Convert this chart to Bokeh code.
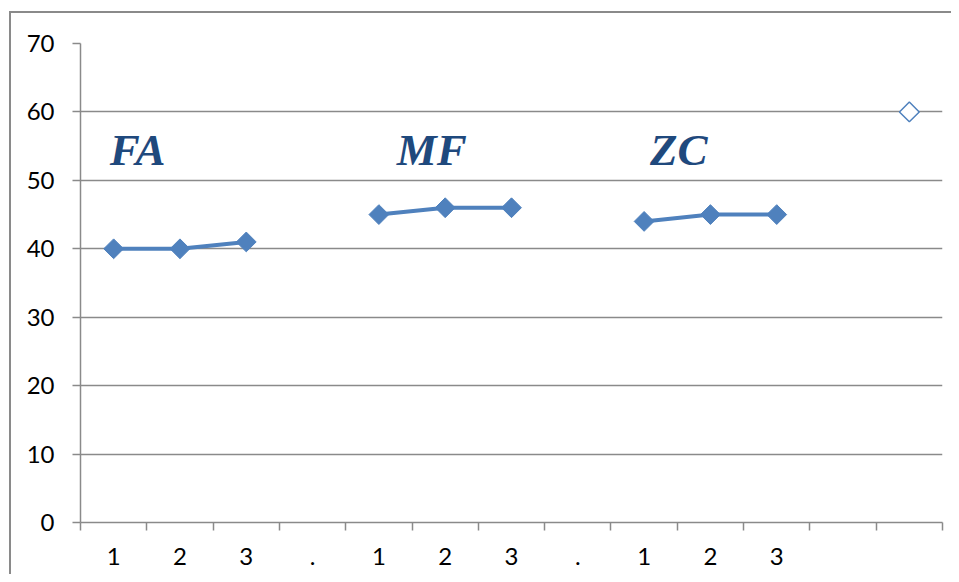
from bokeh.plotting import figure
from bokeh.models import Range1d, FixedTicker, Label
from bokeh.embed import file_html
from bokeh.resources import INLINE
import math

# ---- data ----
categories = ["1", "2", "3", ".", "1", "2", "3", ".", "1", "2", "3", "", ""]
series_main = [40, 40, 41, None, 45, 46, 46, None, 44, 45, 45, None, None]
series_extra = [None] * 12 + [60]
group_names = ["FA", "MF", "ZC"]
y_ticks = [0, 10, 20, 30, 40, 50, 60, 70]

# layout constants for the group labels (data coordinates)
group_label_x = [0.44, 4.77, 8.59]
group_label_y = 54.5

n = len(categories)
xs = [i + 0.5 for i in range(n)]
ys_main = [float("nan") if v is None else v for v in series_main]
ys_extra = [float("nan") if v is None else v for v in series_extra]

GRAY = "#8a8a8a"
BLUE = "#4f81bd"

p = figure(
    frame_width=862, frame_height=479,
    min_border_left=69, min_border_right=9, min_border_top=30, min_border_bottom=52,
    x_range=Range1d(0, n), y_range=Range1d(0, 70),
    output_backend="svg", toolbar_location=None,
)
p.styles = {"border-left": f"2px solid {GRAY}", "border-top": f"2px solid {GRAY}",
            "margin-left": "9px", "margin-top": "11px"}
p.outline_line_color = None
p.background_fill_color = "white"

# grid
p.xgrid.visible = False
p.ygrid.ticker = FixedTicker(ticks=y_ticks)
p.ygrid.grid_line_color = GRAY
p.ygrid.grid_line_width = 1.5

# y axis
p.yaxis.ticker = FixedTicker(ticks=y_ticks, minor_ticks=[])
p.yaxis.axis_line_color = GRAY
p.yaxis.axis_line_width = 1.5
p.yaxis.major_tick_line_color = GRAY
p.yaxis.major_tick_line_width = 1.5
p.yaxis.major_tick_out = 8
p.yaxis.major_tick_in = 0
p.yaxis.minor_tick_line_color = None
p.yaxis.major_label_text_font = "Lato"
p.yaxis.major_label_text_font_size = "24px"
p.yaxis.major_label_text_color = "black"
p.yaxis.major_label_standoff = 18

# x axis
p.xaxis.ticker = FixedTicker(ticks=xs, minor_ticks=list(range(n + 1)))
p.xaxis.major_label_overrides = {x: c for x, c in zip(xs, categories)}
p.xaxis.axis_line_color = GRAY
p.xaxis.axis_line_width = 1.5
p.xaxis.major_tick_line_color = None
p.xaxis.minor_tick_line_color = GRAY
p.xaxis.minor_tick_line_width = 1.5
p.xaxis.minor_tick_out = 8
p.xaxis.minor_tick_in = 0
p.xaxis.major_label_text_font = "Lato"
p.xaxis.major_label_text_font_size = "24px"
p.xaxis.major_label_text_color = "black"
p.xaxis.major_label_standoff = 17

# series
p.line(xs, ys_main, line_color=BLUE, line_width=4)
p.scatter(xs, ys_main, marker="square", angle=math.pi / 4, size=14,
          fill_color=BLUE, line_color=BLUE, line_width=1)
p.scatter(xs, ys_extra, marker="square", angle=math.pi / 4, size=14,
          fill_color="white", line_color=BLUE, line_width=1.5)

# group labels
for name, gx in zip(group_names, group_label_x):
    p.add_layout(Label(x=gx, y=group_label_y, text=name,
                       text_font="Liberation Serif", text_font_style="bold italic",
                       text_font_size="45px", text_color="#1f497d",
                       text_baseline="alphabetic"))

open("out.html", "w").write(file_html(p, INLINE))
